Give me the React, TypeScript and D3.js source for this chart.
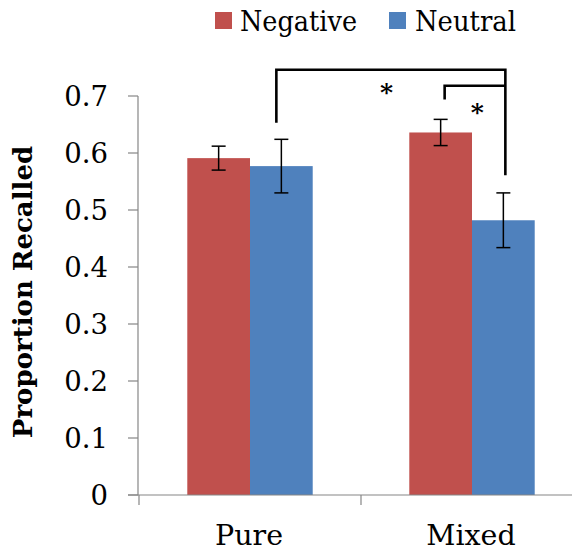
import React from 'react'
import * as d3 from 'd3'

const categories = ['Pure', 'Mixed']
const series = ['Negative', 'Neutral']
const colors = ['#c0504d', '#4f81bd']
const negative = [0.591, 0.636]
const neutral = [0.577, 0.482]
const negativeErr = [0.021, 0.023]
const neutralErr = [0.047, 0.048]
const yTicks = [0, 0.1, 0.2, 0.3, 0.4, 0.5, 0.6, 0.7]

// significance brackets: [category, series] at each end, top level, end levels
const brackets = [
  { a: ['Pure', 'Neutral'], b: ['Mixed', 'Neutral'], top: 0.746, aEnd: 0.653, bEnd: 0.561, dx: [-5, 2] },
  { a: ['Mixed', 'Negative'], b: ['Mixed', 'Neutral'], top: 0.718, aEnd: 0.694, bEnd: 0.718, dx: [4, 2] },
]
const stars = [
  { x: ['Mixed', 'Negative'], y: 0.718, dx: -54 },
  { x: ['Mixed', 'Neutral'], y: 0.682, dx: -26 },
]

const W = 572
const H = 552
const serif = '"DejaVu Serif", serif'

export default function App() {
  const x = d3.scaleBand().domain(categories).range([139, 583]).paddingInner(0).paddingOuter(0)
  const xs = d3.scaleBand().domain(series).range([0, x.bandwidth()]).paddingInner(0).paddingOuter(0.77)
  const y = d3.scaleLinear().domain([0, 0.7]).range([495, 96])

  const vals = [negative, neutral]
  const errs = [negativeErr, neutralErr]
  const cx = (cat: string, s: string) => (x(cat) as number) + (xs(s) as number) + xs.bandwidth() / 2

  const axisColor = '#868686'

  return (
    <svg width={W} height={H} style={{ position: 'absolute', left: 0, top: 0, background: '#fff' }}>
      {/* legend */}
      <g>
        <rect x={215} y={12} width={17} height={17} fill={colors[0]} />
        <text x={240} y={31} fontFamily={serif} fontSize={28} textLength={117} lengthAdjust="spacingAndGlyphs" fill="#000">{series[0]}</text>
        <rect x={389} y={12} width={17} height={17} fill={colors[1]} />
        <text x={415} y={31} fontFamily={serif} fontSize={28} textLength={101} lengthAdjust="spacingAndGlyphs" fill="#000">{series[1]}</text>
      </g>

      {/* y axis */}
      <line x1={138} x2={138} y1={y(0.7)} y2={y(0)} stroke={axisColor} strokeWidth={1.2} />
      {yTicks.map(t => (
        <g key={t}>
          <line x1={128} x2={138} y1={y(t)} y2={y(t)} stroke={axisColor} strokeWidth={1.2} />
          <text x={108} y={y(t) + 10} textAnchor="end" fontFamily={serif} fontSize={27.5} fill="#000">
            {t === 0 ? '0' : d3.format('.1f')(t)}
          </text>
        </g>
      ))}
      <text
        transform={`translate(32,292) rotate(-90)`}
        textAnchor="middle"
        fontFamily={serif}
        fontWeight="bold"
        fontSize={26}
        fill="#000"
      >
        Proportion Recalled
      </text>

      {/* bars */}
      {categories.map((c, i) =>
        series.map((s, j) => (
          <rect
            key={c + s}
            x={(x(c) as number) + (xs(s) as number)}
            y={y(vals[j][i])}
            width={xs.bandwidth()}
            height={y(0) - y(vals[j][i])}
            fill={colors[j]}
          />
        ))
      )}

      {/* x axis */}
      <line x1={128} x2={W} y1={y(0)} y2={y(0)} stroke={axisColor} strokeWidth={1.2} />
      {categories.map(c => (
        <line key={c} x1={x(c) as number} x2={x(c) as number} y1={y(0)} y2={y(0) + 10} stroke={axisColor} strokeWidth={1.2} />
      ))}
      {categories.map(c => (
        <text key={c} x={(x(c) as number) + x.bandwidth() / 2 - 1} y={545} textAnchor="middle" fontFamily={serif} fontSize={28.5} fill="#000">
          {c}
        </text>
      ))}

      {/* error bars */}
      {categories.map((c, i) =>
        series.map((s, j) => {
          const px = cx(c, s)
          const hi = y(vals[j][i] + errs[j][i])
          const lo = y(vals[j][i] - errs[j][i])
          return (
            <g key={'e' + c + s} stroke="#000" strokeWidth={1.5}>
              <line x1={px} x2={px} y1={hi} y2={lo} />
              <line x1={px - 7} x2={px + 7} y1={hi} y2={hi} />
              <line x1={px - 7} x2={px + 7} y1={lo} y2={lo} />
            </g>
          )
        })
      )}

      {/* significance brackets */}
      {brackets.map((b, k) => {
        const xa = cx(b.a[0], b.a[1]) + b.dx[0]
        const xb = cx(b.b[0], b.b[1]) + b.dx[1]
        const p = d3.path()
        p.moveTo(xa, y(b.aEnd))
        p.lineTo(xa, y(b.top))
        p.lineTo(xb, y(b.top))
        p.lineTo(xb, y(b.bEnd))
        return <path key={'b' + k} d={p.toString()} fill="none" stroke="#000" strokeWidth={2.6} />
      })}
      {stars.map((s, k) => (
        <text
          key={'s' + k}
          x={cx(s.x[0], s.x[1]) + s.dx}
          y={y(s.y) + 15}
          textAnchor="middle"
          fontFamily={serif}
          fontWeight="bold"
          fontSize={25}
          fill="#000"
        >
          *
        </text>
      ))}
    </svg>
  )
}
